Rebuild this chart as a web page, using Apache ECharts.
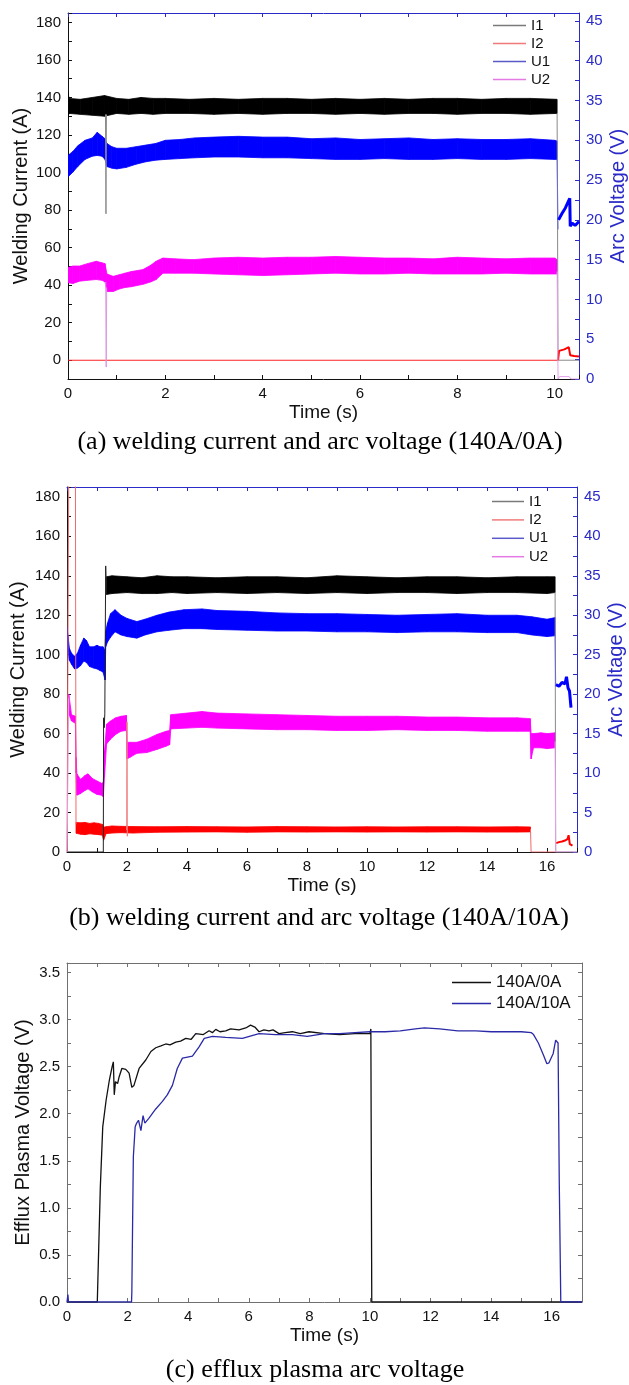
<!DOCTYPE html>
<html>
<head>
<meta charset="utf-8">
<title>Welding current, arc voltage and efflux plasma voltage</title>
<script src="https://cdn.jsdelivr.net/npm/echarts@6.0.0/dist/echarts.min.js"></script>
<style>
html, body { margin: 0; padding: 0; background: #fff; }
#main { width: 629px; height: 1385px; }
</style>
</head>
<body>
<div id="main"></div>
<script>
// ---- (a) 140A/0A : welding current (left axis) and arc voltage (right axis)
// noisy traces are kept as lower / upper envelopes
const aI1Time = [0, 0.02, 0.25, 0.5, 0.75, 1, 1.25, 1.5, 1.75, 2, 2.5, 3, 3.5, 4, 4.5, 5, 5.5, 6, 6.5, 7, 7.5, 8, 8.5, 9, 9.5, 10.05]
const aI1Low = [129.5, 131.5, 131, 130.5, 130, 131.5, 131, 131.5, 131, 131.5, 131.5, 131, 131.5, 131, 131.5, 131.5, 131, 131.5, 131, 131.5, 131.5, 131, 131.5, 131.5, 131, 131.5]
const aI1High = [143, 139.5, 139, 140, 141, 139.5, 139, 140, 139.5, 139.5, 139, 139.5, 139, 139.5, 139.5, 139, 139.5, 139, 139.5, 139, 139.5, 139.5, 139, 139.5, 139.5, 139]
const aI1DipTime = [0.77, 0.78, 0.79]
const aI1DipValue = [131, 78, 131]
const aI1EndTime = [10.05, 10.07, 10.5]
const aI1EndValue = [131.5, 0, 0]

const aI2Time = [0, 10.07]
const aI2Value = [0, 0]
const aI2TailTime = [10.07, 10.09, 10.2, 10.29, 10.31, 10.32, 10.4, 10.5]
const aI2TailValue = [0, 5.0, 5.8, 7.0, 7.9, 2.6, 2.2, 2.0]

const aU1Time = [0, 0.1, 0.2, 0.35, 0.5, 0.6, 0.7, 0.76, 0.8, 0.9, 1.0, 1.2, 1.4, 1.6, 1.8, 2.0, 2.3, 2.6, 3.0, 3.5, 4.0, 4.5, 5.0, 5.5, 6.0, 6.5, 7.0, 7.5, 8.0, 8.5, 9.0, 9.5, 10.0, 10.05]
const aU1Low = [25.4, 26.0, 26.7, 27.6, 28.0, 28.1, 28.0, 27.6, 26.7, 26.5, 26.4, 26.6, 27.0, 27.3, 27.5, 27.6, 27.7, 27.8, 27.9, 27.9, 27.8, 27.8, 27.7, 27.6, 27.6, 27.7, 27.6, 27.6, 27.7, 27.6, 27.6, 27.7, 27.6, 27.6]
const aU1High = [28.1, 28.6, 29.3, 30.0, 30.3, 31.0, 30.5, 30.2, 29.6, 29.2, 29.0, 29.0, 29.2, 29.4, 29.6, 30.0, 30.1, 30.3, 30.4, 30.5, 30.4, 30.4, 30.2, 30.3, 30.1, 30.2, 30.3, 30.1, 30.2, 30.1, 30.1, 30.2, 30.0, 29.9]
const aU1DropTime = [10.05, 10.07]
const aU1DropValue = [27.6, 18.8]
const aU1TailTime = [10.08, 10.15, 10.22, 10.31, 10.32, 10.36, 10.42, 10.5]
const aU1TailValue = [20.0, 20.8, 21.5, 22.7, 19.2, 19.6, 19.3, 19.8]

const aU2Time = [0, 0.1, 0.24, 0.4, 0.58, 0.7, 0.76, 0.8, 0.93, 1.05, 1.17, 1.3, 1.54, 1.7, 1.81, 1.95, 2.2, 2.57, 3.0, 3.5, 4.0, 4.5, 5.0, 5.5, 6.0, 6.5, 7.0, 7.5, 8.0, 8.5, 9.0, 9.5, 10.0, 10.05]
const aU2Low = [12.1, 12.0, 12.3, 12.4, 12.5, 12.4, 12.2, 11.0, 11.0, 11.3, 11.5, 11.6, 11.9, 12.2, 12.5, 13.3, 13.3, 13.3, 13.2, 13.1, 13.0, 13.1, 13.2, 13.3, 13.2, 13.2, 13.3, 13.2, 13.2, 13.2, 13.3, 13.2, 13.2, 13.2]
const aU2High = [14.0, 14.2, 14.2, 14.5, 14.8, 14.6, 14.5, 13.2, 12.9, 13.1, 13.3, 13.5, 13.75, 14.3, 14.8, 15.2, 15.1, 15.0, 15.2, 15.3, 15.2, 15.3, 15.3, 15.4, 15.3, 15.2, 15.2, 15.1, 15.3, 15.2, 15.1, 15.2, 15.2, 15.0]
const aU2DipTime = [0.775, 0.785, 0.795]
const aU2DipValue = [12.2, 1.5, 11.5]
const aU2EndTime = [10.05, 10.07, 10.1, 10.3, 10.33, 10.5]
const aU2EndValue = [13.5, 0, 0.3, 0.3, 0, 0]

// ---- (b) 140A/10A
const bI1StartTime = [0, 1.21, 1.22, 1.24, 1.26, 1.29, 1.31]
const bI1StartValue = [0, 0, 68, 63, 70, 145, 133]
const bI1Time = [1.31, 1.5, 2, 2.5, 3, 3.5, 4, 5, 6, 7, 8, 9, 10, 11, 12, 13, 14, 15, 16, 16.27]
const bI1Low = [130.5, 131, 131.5, 131, 131, 131.5, 131, 131.5, 131, 131.5, 131, 131.5, 131, 131.5, 131.5, 131, 131.5, 131.5, 131, 131.5]
const bI1High = [139.5, 140, 139.5, 139, 140, 139.5, 139.5, 139, 139.5, 139.5, 139, 140, 139.5, 139, 139.5, 139.5, 139, 139.5, 139.5, 139.5]
const bI1EndTime = [16.27, 16.29, 17]
const bI1EndValue = [131.5, 0, 0]

const bI2StartTime = [0, 0.05, 0.06, 0.28, 0.30]
const bI2StartValue = [0, 0, 200, 200, 14]
const bI2Time = [0.30, 0.45, 0.6, 0.75, 0.9, 1.05, 1.18, 1.22, 1.3, 1.5, 1.8, 2.2, 3, 4, 5, 6, 7, 8, 9, 10, 11, 12, 13, 14, 15, 15.45]
const bI2Low = [9.5, 9.0, 8.8, 9.2, 9.0, 8.8, 8.5, 6.0, 9.3, 9.6, 9.8, 9.6, 10.0, 10.1, 10.2, 10.0, 10.2, 10.1, 10.2, 10.1, 10.2, 10.1, 10.2, 10.1, 10.1, 10.2]
const bI2High = [15.0, 14.8, 15.0, 14.5, 14.8, 14.5, 14.0, 12.5, 12.8, 13.2, 13.0, 12.9, 12.8, 12.9, 12.8, 12.7, 12.9, 12.8, 12.7, 12.8, 12.7, 12.8, 12.8, 12.7, 12.8, 12.7]
const bI2SpikeTime = [1.99, 2.0, 2.01, 2.02]
const bI2SpikeValue = [11, 66, 8, 11]
const bI2EndTime = [15.45, 15.47, 16.3]
const bI2EndValue = [11.5, 0, 0]
const bI2TailTime = [16.31, 16.4, 16.5, 16.6, 16.68, 16.72, 16.76, 16.85]
const bI2TailValue = [4.5, 5.0, 5.3, 5.8, 6.5, 8.5, 4.0, 3.2]

const bU1Time = [0.0, 0.03, 0.08, 0.15, 0.25, 0.35, 0.45, 0.56, 0.65, 0.75, 0.89, 1.0, 1.1, 1.2, 1.27, 1.29, 1.35, 1.45, 1.6, 1.8, 2.0, 2.33, 2.6, 3.0, 3.4, 3.9, 4.5, 5, 6, 7, 8, 9, 10, 11, 12, 13, 14, 15, 15.5, 16, 16.27]
const bU1Low = [27.0, 25.5, 24.3, 23.8, 23.2, 23.3, 23.6, 24.2, 24.0, 23.5, 23.3, 23.2, 23.0, 22.8, 21.8, 26.0, 26.6, 27.2, 27.9, 27.5, 27.3, 27.1, 27.5, 27.9, 28.1, 28.3, 28.3, 28.2, 28.1, 28.0, 28.0, 27.9, 27.9, 27.8, 27.9, 27.9, 27.8, 27.8, 27.5, 27.3, 27.4]
const bU1High = [28.5, 27.5, 25.8, 25.2, 24.8, 25.2, 26.2, 27.1, 26.8, 26.0, 26.0, 26.2, 26.0, 26.0, 25.5, 28.0, 29.0, 30.2, 30.7, 30.0, 29.6, 29.2, 29.5, 30.0, 30.4, 30.7, 30.8, 30.6, 30.5, 30.3, 30.2, 30.2, 30.1, 30.0, 30.1, 30.2, 30.0, 30.0, 29.8, 29.5, 29.7]
const bU1DropTime = [16.27, 16.29]
const bU1DropValue = [27.5, 21.0]
const bU1TailTime = [16.3, 16.4, 16.5, 16.6, 16.65, 16.7, 16.75, 16.8]
const bU1TailValue = [21.2, 21.0, 21.5, 21.3, 22.2, 20.8, 20.4, 18.3]

const bU2StartTime = [0, 0.05, 0.06]
const bU2StartValue = [0, 0, 19.5]
const bU2Time = [0.06, 0.15, 0.28, 0.30, 0.33, 0.45, 0.6, 0.7, 0.85, 1.0, 1.15, 1.21, 1.25, 1.32, 1.45, 1.62, 1.8, 1.98, 2.0, 2.1, 2.33, 2.66, 3.0, 3.3, 3.42, 3.46, 4.0, 4.5, 5, 6, 7, 8, 9, 10, 11, 12, 13, 14, 15, 15.44, 15.47, 15.55, 15.8, 16.0, 16.27]
const bU2Low = [17.5, 16.6, 16.3, 10.0, 7.2, 7.4, 7.8, 8.0, 7.6, 7.3, 7.2, 7.0, 9.5, 13.7, 14.3, 14.9, 15.3, 15.4, 11.8, 12.0, 12.5, 12.6, 13.0, 13.4, 13.6, 15.6, 15.7, 15.8, 15.7, 15.6, 15.5, 15.5, 15.4, 15.4, 15.5, 15.4, 15.4, 15.3, 15.3, 15.3, 11.8, 13.2, 13.2, 13.1, 13.2]
const bU2High = [20.0, 17.4, 17.2, 12.0, 9.9, 9.2, 9.7, 9.9, 9.3, 9.0, 8.7, 8.8, 12.8, 16.2, 16.6, 17.0, 17.2, 17.3, 13.9, 13.9, 13.9, 14.3, 14.9, 15.3, 15.4, 17.4, 17.6, 17.8, 17.6, 17.5, 17.4, 17.3, 17.2, 17.2, 17.2, 17.1, 17.1, 17.0, 17.0, 16.9, 15.0, 15.0, 15.1, 15.0, 15.1]
const bU2EndTime = [16.27, 16.29, 17]
const bU2EndValue = [14.0, 0, 0]

// ---- (c) efflux plasma arc voltage
const cTime0 = [0, 1.0, 1.02, 1.10, 1.18, 1.29, 1.40, 1.49, 1.53, 1.56, 1.60, 1.67, 1.72, 1.81, 1.94, 2.05, 2.14, 2.21, 2.38, 2.60, 2.77, 2.93, 3.1, 3.26, 3.4, 3.59, 3.75, 3.92, 4.1, 4.25, 4.5, 4.69, 4.8, 4.91, 5.05, 5.24, 5.4, 5.68, 5.9, 6.06, 6.2, 6.34, 6.5, 6.67, 6.8, 7.0, 7.2, 7.44, 7.7, 7.99, 8.5, 9.0, 9.5, 10.0, 10.03, 10.06, 17]
const cVolt0 = [0, 0, 0.02, 1.22, 1.86, 2.14, 2.36, 2.50, 2.55, 2.20, 2.34, 2.32, 2.39, 2.48, 2.47, 2.43, 2.28, 2.30, 2.48, 2.57, 2.66, 2.70, 2.72, 2.74, 2.73, 2.76, 2.77, 2.80, 2.79, 2.85, 2.84, 2.88, 2.86, 2.895, 2.87, 2.88, 2.90, 2.89, 2.91, 2.94, 2.92, 2.87, 2.89, 2.88, 2.89, 2.85, 2.86, 2.87, 2.85, 2.87, 2.85, 2.84, 2.85, 2.85, 2.90, 0, 0]
const cTime10 = [0, 0.03, 0.05, 2.13, 2.14, 2.19, 2.25, 2.30, 2.36, 2.44, 2.51, 2.57, 2.70, 2.93, 3.15, 3.31, 3.48, 3.64, 3.81, 4.14, 4.36, 4.53, 4.80, 5.24, 5.79, 6.34, 6.88, 7.44, 7.93, 8.5, 9.0, 9.5, 10.0, 10.5, 11.0, 11.5, 11.8, 12.3, 12.9, 13.5, 14.0, 14.5, 15.0, 15.33, 15.4, 15.56, 15.73, 15.84, 15.91, 16.05, 16.13, 16.17, 16.21, 16.25, 16.30, 17]
const cVolt10 = [0, 0.08, 0, 0, 0.1, 1.54, 1.86, 1.90, 1.93, 1.82, 1.98, 1.90, 1.95, 2.05, 2.13, 2.20, 2.30, 2.48, 2.59, 2.61, 2.71, 2.80, 2.82, 2.81, 2.80, 2.85, 2.84, 2.84, 2.82, 2.85, 2.85, 2.86, 2.87, 2.87, 2.88, 2.90, 2.91, 2.90, 2.88, 2.88, 2.87, 2.87, 2.87, 2.86, 2.84, 2.75, 2.62, 2.53, 2.54, 2.64, 2.78, 2.80, 2.75, 1.26, 0, 0]

const black = '#111'
const blueAxis = '#2a2ac8'
const frame = '#707070'

const pairs = (t, v) => t.map((x, i) => [x, v[i]])

function trace(name, t, v, color, width, xi, yi) {
  return {
    name, type: 'line', xAxisIndex: xi, yAxisIndex: yi,
    data: pairs(t, v), symbol: 'none', silent: true,
    lineStyle: { color, width }, itemStyle: { color }
  }
}

// envelope band: one filled quad per pair of neighbouring samples
function band(name, t, lo, hi, color, xi, yi) {
  const data = []
  for (let i = 0; i < t.length - 1; i++) {
    data.push([t[i], lo[i], hi[i], t[i + 1], lo[i + 1], hi[i + 1]])
  }
  return {
    name, type: 'custom', xAxisIndex: xi, yAxisIndex: yi, silent: true, clip: true,
    encode: { x: [0, 3], y: [1, 2, 4, 5] },
    itemStyle: { color },
    renderItem: (params, api) => {
      const pts = [
        api.coord([api.value(0), api.value(1)]),
        api.coord([api.value(3), api.value(4)]),
        api.coord([api.value(3), api.value(5)]),
        api.coord([api.value(0), api.value(2)])
      ]
      return { type: 'polygon', shape: { points: pts }, style: { fill: color, stroke: color, lineWidth: 0.8 } }
    },
    data
  }
}

const every = step => v => (Math.abs(v / step - Math.round(v / step)) < 1e-6 ? String(v) : '')
const halfLabel = v => (Math.abs(v * 2 - Math.round(v * 2)) < 1e-6 ? v.toFixed(1) : '')

function xAxisOf(grid, max, color, top) {
  return {
    type: 'value', gridIndex: grid, min: 0, max, interval: 1,
    position: top ? 'top' : 'bottom',
    splitLine: { show: false },
    axisLine: { onZero: false, lineStyle: { color, width: 1 } },
    axisTick: { inside: true, length: 4, lineStyle: { color } },
    axisLabel: top ? { show: false } : { formatter: every(2), color: black, fontSize: 15, margin: 7 },
    name: top ? '' : 'Time (s)', nameLocation: 'middle', nameGap: 24, nameMoveOverlap: false,
    nameTextStyle: { fontSize: 19, color: black }
  }
}

function yAxisOf(grid, min, max, interval, fmt, color, right, name, gap) {
  return {
    type: 'value', gridIndex: grid, min, max, interval,
    position: right ? 'right' : 'left',
    splitLine: { show: false },
    axisLine: { onZero: false, lineStyle: { color, width: 1 } },
    axisTick: { inside: true, length: 4, lineStyle: { color } },
    axisLabel: fmt ? { formatter: fmt, color: right ? color : black, fontSize: 15, margin: 7 } : { show: false },
    name: name || '', nameLocation: 'middle', nameGap: gap, nameRotate: 90, nameMoveOverlap: false,
    nameTextStyle: { fontSize: 20, color: right ? color : black }
  }
}

const legendA = [
  { name: 'I1', itemStyle: { color: '#7a7a7a' } },
  { name: 'I2', itemStyle: { color: '#f07a7a' } },
  { name: 'U1', itemStyle: { color: '#5a5ac8' } },
  { name: 'U2', itemStyle: { color: '#e47ae4' } }
]
const captionStyle = { fontFamily: 'Liberation Serif', fontSize: 26, fontWeight: 'normal', color: '#000' }

let myChart = echarts.init(document.getElementById('main'))
let options = {
  animation: false,
  backgroundColor: '#fff',
  textStyle: { fontFamily: 'Liberation Sans, Arial, sans-serif' },
  title: [
    { text: '(a) welding current and arc voltage (140A/0A)', left: 320, top: 429, textAlign: 'center', padding: 0, textStyle: captionStyle },
    { text: '(b) welding current and arc voltage (140A/10A)', left: 319, top: 905, textAlign: 'center', padding: 0, textStyle: captionStyle },
    { text: '(c) efflux plasma arc voltage', left: 315, top: 1357, textAlign: 'center', padding: 0, textStyle: captionStyle }
  ],
  legend: [
    { left: 493, top: 18, padding: 0, orient: 'vertical', icon: 'rect', itemWidth: 33, itemHeight: 1.5, itemGap: 3,
      textStyle: { fontSize: 15, color: black }, selectedMode: false, data: legendA },
    { left: 492, top: 494, padding: 0, orient: 'vertical', icon: 'rect', itemWidth: 32, itemHeight: 1.5, itemGap: 3.4,
      textStyle: { fontSize: 15, color: black }, selectedMode: false, data: legendA },
    { left: 452, top: 974, padding: 0, orient: 'vertical', icon: 'rect', itemWidth: 39, itemHeight: 1.5, itemGap: 4,
      textStyle: { fontSize: 17, color: black }, selectedMode: false,
      data: [{ name: '140A/0A', itemStyle: { color: '#111' } }, { name: '140A/10A', itemStyle: { color: '#2a2aa8' } }] }
  ],
  grid: [
    { left: 68, top: 13, width: 511, height: 366, outerBoundsMode: 'none' },
    { left: 67, top: 487, width: 510, height: 365, outerBoundsMode: 'none' },
    { left: 67, top: 963, width: 515, height: 339, outerBoundsMode: 'none' }
  ],
  xAxis: [
    xAxisOf(0, 10.5, black, false),
    xAxisOf(0, 10.5, blueAxis, true),
    xAxisOf(1, 17, black, false),
    xAxisOf(1, 17, blueAxis, true),
    xAxisOf(2, 17, frame, false),
    xAxisOf(2, 17, frame, true)
  ],
  yAxis: [
    yAxisOf(0, -10, 185, 10, every(20), black, false, 'Welding Current (A)', 37),
    yAxisOf(0, 0, 46, 2.5, every(5), blueAxis, true, 'Arc Voltage (V)', 29),
    yAxisOf(1, 0, 185, 10, every(20), black, false, 'Welding Current (A)', 39),
    yAxisOf(1, 0, 46.25, 2.5, every(5), blueAxis, true, 'Arc Voltage (V)', 29),
    yAxisOf(2, 0, 3.6, 0.25, halfLabel, frame, false, 'Efflux Plasma Voltage (V)', 34),
    yAxisOf(2, 0, 3.6, 0.25, null, frame, true, '', 0)
  ],
  series: [
    // (a)
    band('I1', aI1Time, aI1Low, aI1High, '#000', 0, 0),
    trace('I1 dip', aI1DipTime, aI1DipValue, '#8a8a8a', 1, 0, 0),
    trace('I1 end', aI1EndTime, aI1EndValue, '#8a8a8a', 1, 0, 0),
    trace('I2', aI2Time, aI2Value, '#ff2020', 1.2, 0, 0),
    trace('I2 tail', aI2TailTime, aI2TailValue, '#ff0000', 2, 0, 0),
    band('U1', aU1Time, aU1Low, aU1High, '#0000ff', 0, 1),
    trace('U1 drop', aU1DropTime, aU1DropValue, '#6a6ad8', 1, 0, 1),
    trace('U1 tail', aU1TailTime, aU1TailValue, '#0000ff', 3, 0, 1),
    band('U2', aU2Time, aU2Low, aU2High, '#ff00ff', 0, 1),
    trace('U2 dip', aU2DipTime, aU2DipValue, '#dc98e0', 1, 0, 1),
    trace('U2 end', aU2EndTime, aU2EndValue, '#e4a0ea', 1, 0, 1),
    // (b)
    trace('I1 start', bI1StartTime, bI1StartValue, '#222', 1, 2, 2),
    band('I1', bI1Time, bI1Low, bI1High, '#000', 2, 2),
    trace('I1 end b', bI1EndTime, bI1EndValue, '#8a8a8a', 1, 2, 2),
    trace('I2 start', bI2StartTime, bI2StartValue, '#f06a6a', 1, 2, 2),
    band('I2', bI2Time, bI2Low, bI2High, '#ff0000', 2, 2),
    trace('I2 spike', bI2SpikeTime, bI2SpikeValue, '#f08080', 1, 2, 2),
    trace('I2 end', bI2EndTime, bI2EndValue, '#f06a6a', 1, 2, 2),
    trace('I2 tail b', bI2TailTime, bI2TailValue, '#ff0000', 2, 2, 2),
    band('U1', bU1Time, bU1Low, bU1High, '#0000ff', 2, 3),
    trace('U1 drop b', bU1DropTime, bU1DropValue, '#6a6ad8', 1, 2, 3),
    trace('U1 tail b', bU1TailTime, bU1TailValue, '#0000ff', 3, 2, 3),
    trace('U2 start', bU2StartTime, bU2StartValue, '#e4a0ea', 1, 2, 3),
    band('U2', bU2Time, bU2Low, bU2High, '#ff00ff', 2, 3),
    trace('U2 end b', bU2EndTime, bU2EndValue, '#e4a0ea', 1, 2, 3),
    // (c)
    trace('140A/0A', cTime0, cVolt0, '#111', 1.3, 4, 4),
    trace('140A/10A', cTime10, cVolt10, '#2a2aa8', 1.3, 4, 4)
  ]
}
myChart.setOption(options)
</script>
</body>
</html>
